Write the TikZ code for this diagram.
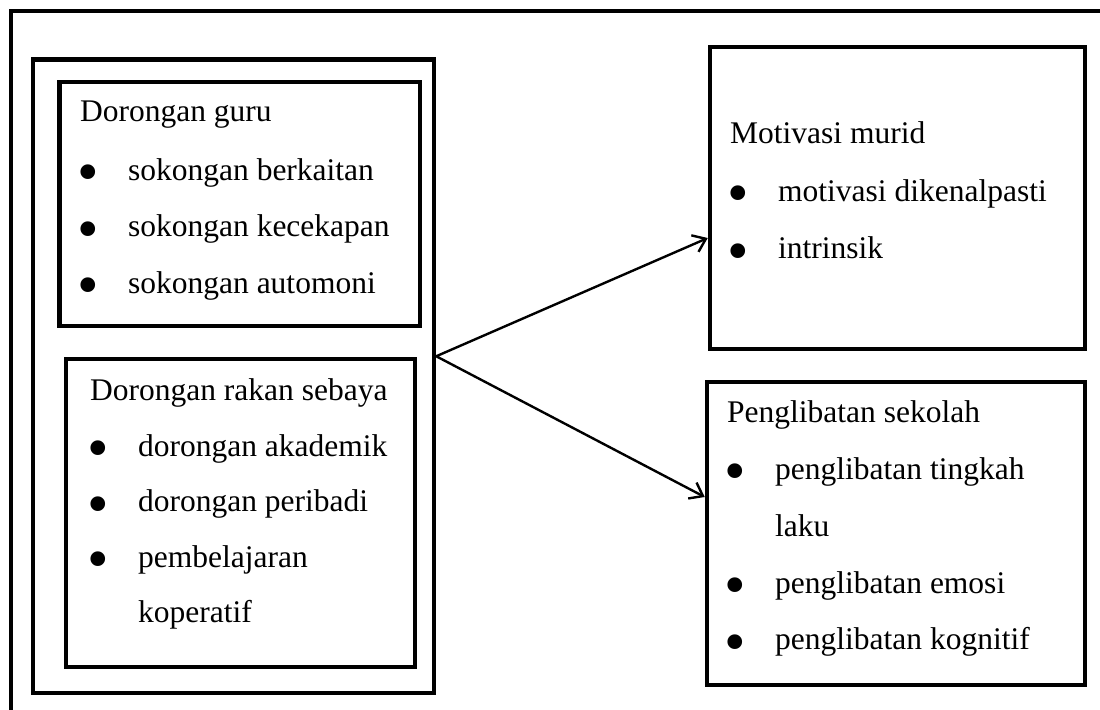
\documentclass[tikz,border=0pt]{standalone}
\usepackage{fontspec}
\usepackage{graphicx}
\setmainfont{Liberation Serif}
\usetikzlibrary{arrows.meta,positioning}

\tikzset{
  kotak/.style={draw, line width=2.25pt, inner sep=0pt},
  baris/.style={anchor=base west, inner sep=0pt, font=\fontsize{15.75}{19}\selectfont},
  panah/.style={line width=1.2pt, -{Straight Barb[length=6pt,width=9pt]}},
}
\newcommand{\butir}[1]{\makebox[24pt][l]{\hspace{-1.4pt}\raisebox{-6.2pt}{\scalebox{1.95}{\textbullet}}}#1}
\newcommand{\sambung}[1]{\hspace*{24pt}#1}

\begin{document}
\begin{tikzpicture}[x=0.5pt, y=-0.5pt]
\useasboundingbox (0,0) rectangle (1100,709);

% bingkai luar
\draw[line width=2.25pt] (11,730) -- (11,11) -- (1120,11);

% kotak
\node[kotak, minimum width=200.5pt, minimum height=316.75pt] (faktor) at (233.5,376.25) {};
\node[kotak, minimum width=180.25pt, minimum height=122pt] (guru) at (239.75,204) {};
\node[kotak, minimum width=174.5pt, minimum height=154pt] (rakan) at (240.5,513) {};
\node[kotak, minimum width=187.5pt, minimum height=151pt] (motivasi) at (897.5,198) {};
\node[kotak, minimum width=189pt, minimum height=151.5pt] (libat) at (896,533.5) {};

% teks
\node[baris] (guru-0) at ([shift={(22.5,42)}]guru.north west) {Dorongan guru};
\foreach \teks [count=\i] in {\butir{sokongan berkaitan}, \butir{sokongan kecekapan},
    \butir{sokongan automoni}}
  \node[baris] (guru-\i) at ([shift={(0,{2+56.5*\i})}]guru-0.base west) {\teks};

\node[baris] (rakan-0) at ([shift={(26,44)}]rakan.north west) {Dorongan rakan sebaya};
\foreach \teks [count=\i] in {\butir{dorongan akademik}, \butir{dorongan peribadi},
    \butir{pembelajaran}, \sambung{koperatif}}
  \node[baris] (rakan-\i) at ([shift={(0,{55.5*\i})}]rakan-0.base west) {\teks};

\node[baris] (motivasi-0) at ([shift={(22,99)}]motivasi.north west) {Motivasi murid};
\foreach \teks [count=\i] in {\butir{motivasi dikenalpasti}, \butir{intrinsik}}
  \node[baris] (motivasi-\i) at ([shift={(0,{57.5*\i})}]motivasi-0.base west) {\teks};

\node[baris] (libat-0) at ([shift={(22,43)}]libat.north west) {Penglibatan sekolah};
\foreach \teks [count=\i] in {\butir{penglibatan tingkah}, \sambung{laku},
    \butir{penglibatan emosi}, \butir{penglibatan kognitif}}
  \node[baris] (libat-\i) at ([shift={(0,{56.8*\i})}]libat-0.base west) {\teks};

% anak panah
\draw[panah] ([yshift=10pt]faktor.east) -- ([yshift=-20pt]motivasi.west);
\draw[panah] ([yshift=10pt]faktor.east) -- ([yshift=18.25pt]libat.west);

\end{tikzpicture}
\end{document}
